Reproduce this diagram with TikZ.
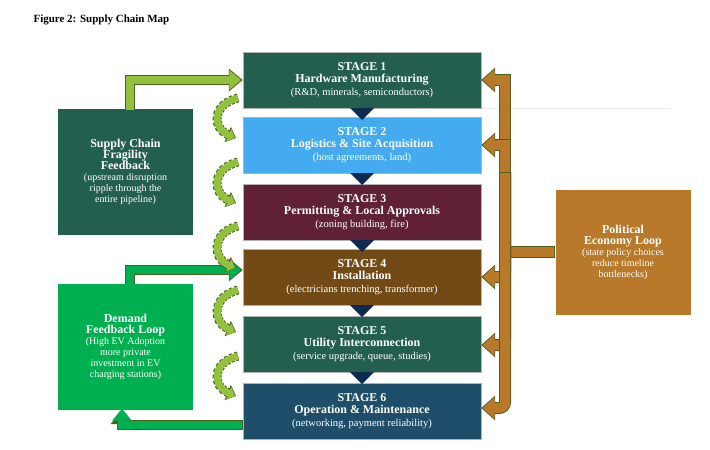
\documentclass[tikz,border=0pt]{standalone}
\usepackage{fontspec}
\setmainfont{Liberation Serif}
\usetikzlibrary{arrows.meta}
\definecolor{sA}{HTML}{235F4E}
\definecolor{sB}{HTML}{45ABF0}
\definecolor{sC}{HTML}{602035}
\definecolor{sD}{HTML}{714A15}
\definecolor{sE}{HTML}{235F4E}
\definecolor{sF}{HTML}{1F4E6B}
\definecolor{gL}{HTML}{92C13E}
\definecolor{gB}{HTML}{00B050}
\definecolor{oR}{HTML}{B8792A}
\definecolor{edge}{HTML}{4F5F1F}
\definecolor{navy}{HTML}{0F2A50}
\begin{document}
\begin{tikzpicture}[x=1pt,y=-1pt,
 stage/.style={draw=gray!60,minimum width=238pt,minimum height=56pt,text=white,align=center,font=\fontsize{10.5}{12.5}\selectfont,inner sep=0pt},
 side/.style={minimum width=135pt,minimum height=126pt,text=white,align=center,font=\fontsize{10}{11}\selectfont,inner sep=2pt},
 tri/.style={fill=navy,draw=none},
 cur/.style={line width=9pt,draw=edge,dash pattern=on 3pt off 2pt},
 curin/.style={line width=7pt,draw=gL}]
\useasboundingbox (0,0) rectangle (710,450);
\node[anchor=west,font=\bfseries\fontsize{11}{13}\selectfont] (title) at (30,20) {Figure 2: Supply Chain Map};
\draw[gray!15] (243,108) -- (670,108);
\node[stage,fill=sA] (s1) at (362,80) {\textbf{\large STAGE 1}\\\textbf{\large Hardware Manufacturing}\\(R\&D, minerals, semiconductors)};
\node[stage,fill=sB] (s2) at (362,145) {\textbf{\large STAGE 2}\\\textbf{\large Logistics \& Site Acquisition}\\(host agreements, land)};
\node[stage,fill=sC] (s3) at (362,212) {\textbf{\large STAGE 3}\\\textbf{\large Permitting \& Local Approvals}\\(zoning building, fire)};
\node[stage,fill=sD] (s4) at (362,277) {\textbf{\large STAGE 4}\\\textbf{\large Installation}\\(electricians trenching, transformer)};
\node[stage,fill=sE] (s5) at (362,344) {\textbf{\large STAGE 5}\\\textbf{\large Utility Interconnection}\\(service upgrade, queue, studies)};
\node[stage,fill=sF] (s6) at (362,411) {\textbf{\large STAGE 6}\\\textbf{\large Operation \& Maintenance}\\(networking, payment reliability)};
\foreach \y in {108,173,240,305,372}{\fill[navy] (350,\y) -- (374,\y) -- (362,\y+12) -- cycle;}
\node[side,fill=sA] (fb) at (125.5,172) {\textbf{\large Supply Chain}\\\textbf{\large Fragility}\\\textbf{\large Feedback}\\(upstream disruption\\ripple through the\\entire pipeline)};
\node[side,fill=gB] (dm) at (125.5,347) {\textbf{\large Demand}\\\textbf{\large Feedback Loop}\\(High EV Adoption\\more private\\investment in EV\\charging stations)};
\node[side,fill=oR,minimum height=125pt] (pe) at (623,252) {\textbf{\large Political}\\\textbf{\large Economy Loop}\\(state policy choices\\reduce timeline\\bottlenecks)};
% green hollow arrows
\coordinate (a1) at (130,80); \coordinate (a2) at (130,270); \coordinate (a3) at (122,425);
\draw[edge,line width=10pt,-{Triangle[width=22pt,length=14pt]}] (fb.north -| a1) -- (a1) -- (s1.west);
\draw[gL,line width=8pt,-{Triangle[width=19pt,length=12pt]}] ([yshift=-1pt]fb.north -| a1) -- (a1) -- ([xshift=-1.5pt]s1.west);
\draw[edge,line width=10pt,-{Triangle[width=22pt,length=14pt]}] (dm.north -| a2) -- (a2) -- (s4.west |- a2);
\draw[gB,line width=8pt,-{Triangle[width=19pt,length=12pt]}] ([yshift=-1pt]dm.north -| a2) -- (a2) -- ([xshift=-1.5pt]s4.west |- a2);
\draw[edge,line width=10pt,-{Triangle[width=22pt,length=14pt]}] (s6.west |- a3) -- (a3) -- (dm.south -| a3);
\draw[gB,line width=8pt,-{Triangle[width=19pt,length=12pt]}] ([xshift=-1pt]s6.west |- a3) -- (a3) -- ([yshift=1.5pt]dm.south -| a3);
% curved dashed arrows
\foreach \ya/\yb in {98/138,162/203,226/268,290/332,356/396}{
 \draw[cur,-{Triangle[width=16pt,length=9pt]}] (238,\ya) .. controls (212,\ya+6) and (212,\yb-10) .. (236,\yb);
 \draw[curin,-{Triangle[width=13pt,length=7pt]}] (238,\ya) .. controls (212,\ya+6) and (212,\yb-10) .. (235,\yb);
}
% orange bracket arrows
\coordinate (v) at (505,0);
\foreach \n/\yy/\yt in {s1/80/80,s2/145/145}{
 \draw[edge,line width=12pt,-{Triangle[width=24pt,length=14pt]}] (505,214) -- (505,\yy) -- (s1.east |- 0,\yt);
 \draw[oR,line width=10pt,-{Triangle[width=21pt,length=12pt]}] (505,213) -- (505,\yy) -- ([xshift=1.5pt]s1.east |- 0,\yt);}
\draw[edge,line width=12pt] (pe.west |- 0,252) -- (505,252);
\draw[oR,line width=10pt] ([xshift=-1pt]pe.west |- 0,252) -- (505,252);
\foreach \n/\yy in {s4/277,s5/345,s6/408}{
 \draw[edge,line width=12pt,rounded corners=6pt,-{Triangle[width=24pt,length=14pt]}] (505,172) -- (505,\yy) -- (s4.east |- 0,\yy);
 \draw[oR,line width=10pt,rounded corners=6pt,-{Triangle[width=21pt,length=12pt]}] (505,173) -- (505,\yy) -- ([xshift=1.5pt]s4.east |- 0,\yy);}
\end{tikzpicture}
\end{document}
